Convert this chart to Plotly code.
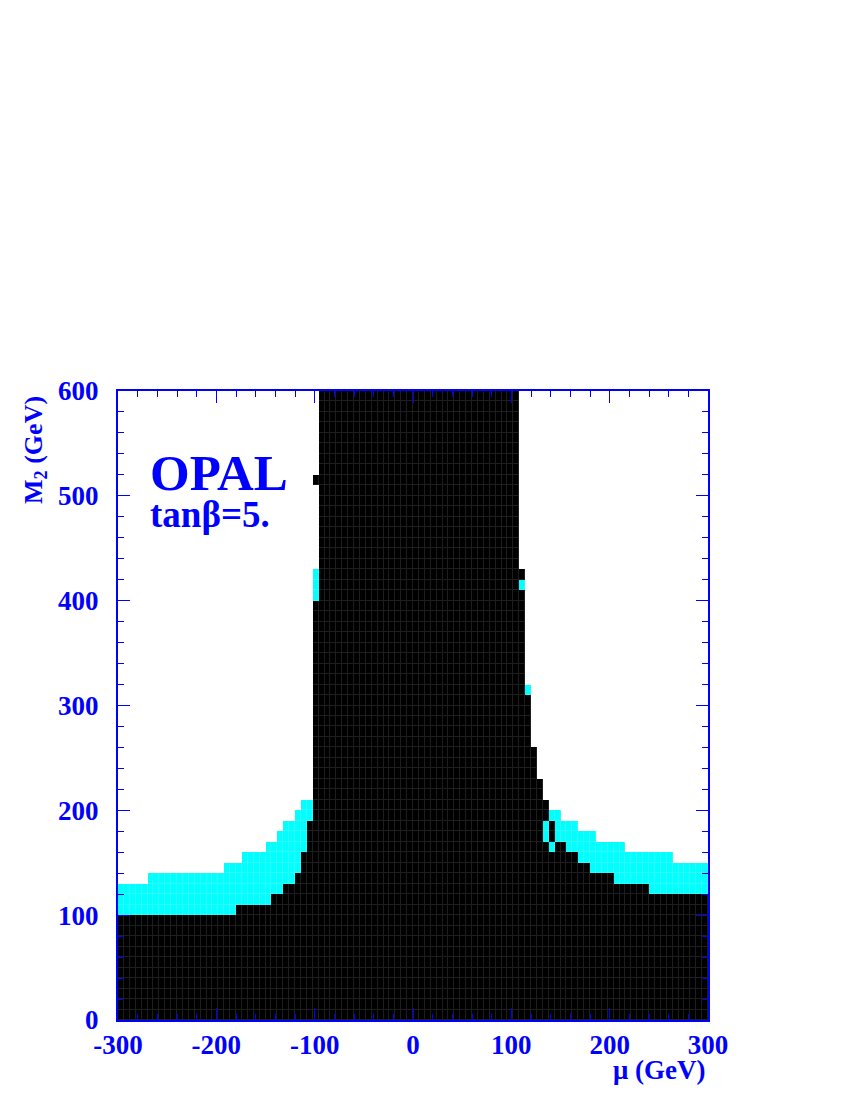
import numpy as np
import plotly.graph_objects as go

# ---- data ----
# scan grid: 100 columns in mu (6 GeV wide), 60 rows in M2 (10 GeV tall)
mu_edges = list(range(-300, 301, 6))
m2_edges = list(range(0, 601, 10))

# top of the excluded (black) region per mu column, GeV
black_top = [100, 100, 100, 100, 100, 100, 100, 100, 100, 100,
             100, 100, 100, 100, 100, 100, 100, 100, 100, 100,
             110, 110, 110, 110, 110, 110, 120, 120, 130, 130,
             140, 160, 190, 400, 600, 600, 600, 600, 600, 600,
             600, 600, 600, 600, 600, 600, 600, 600, 600, 600,
             600, 600, 600, 600, 600, 600, 600, 600, 600, 600,
             600, 600, 600, 600, 600, 600, 600, 600, 410, 310,
             260, 230, 170, 160, 170, 170, 160, 160, 150, 150,
             140, 140, 140, 140, 130, 130, 130, 130, 130, 130,
             120, 120, 120, 120, 120, 120, 120, 120, 120, 120]

# top of the cyan region per mu column, GeV
cyan_top = [130, 130, 130, 130, 130, 140, 140, 140, 140, 140,
            140, 140, 140, 140, 140, 140, 140, 140, 150, 150,
            150, 160, 160, 160, 160, 170, 170, 180, 190, 190,
            200, 210, 210, 430, 600, 600, 600, 600, 600, 600,
            600, 600, 600, 600, 600, 600, 600, 600, 600, 600,
            600, 600, 600, 600, 600, 600, 600, 600, 600, 600,
            600, 600, 600, 600, 600, 600, 600, 600, 420, 320,
            260, 230, 190, 200, 200, 190, 190, 190, 180, 180,
            180, 170, 170, 170, 170, 170, 160, 160, 160, 160,
            160, 160, 160, 160, 150, 150, 150, 150, 150, 150]

# isolated black cells (column left edge in mu, M2 low, M2 high)
extra_mu = [-102, 108, 132, 138]
extra_lo = [510, 420, 190, 170]
extra_hi = [520, 430, 210, 190]

x_ticks = [-300, -200, -100, 0, 100, 200, 300]
x_ticktext = ["-300", "-200", "-100", "0", "100", "200", "300"]
y_ticks = [0, 100, 200, 300, 400, 500, 600]

# ---- build cell matrix ----
mu_c = [(a + b) / 2 for a, b in zip(mu_edges[:-1], mu_edges[1:])]
m2_c = [(a + b) / 2 for a, b in zip(m2_edges[:-1], m2_edges[1:])]
z = np.full((len(m2_c), len(mu_c)), np.nan)
for j, xm in enumerate(mu_c):
    for i, ym in enumerate(m2_c):
        if ym < black_top[j]:
            z[i, j] = 0
        elif ym < cyan_top[j]:
            z[i, j] = 1
for xe, lo, hi in zip(extra_mu, extra_lo, extra_hi):
    j = mu_edges.index(xe)
    for i, ym in enumerate(m2_c):
        if lo < ym < hi:
            z[i, j] = 0

BLUE = "#0000ff"
FONT = "Liberation Serif"

fig = go.Figure()
# faint cell borders (underlay)
fig.add_trace(go.Heatmap(
    x=mu_c, y=m2_c, z=z, zmin=0, zmax=1,
    colorscale=[[0, "#1e1e1e"], [0.5, "#1e1e1e"], [0.5, "#30f8f8"], [1, "#30f8f8"]],
    showscale=False, hoverinfo="skip"))
fig.add_trace(go.Heatmap(
    x=mu_c, y=m2_c, z=z, zmin=0, zmax=1, xgap=1, ygap=1,
    colorscale=[[0, "#000000"], [0.5, "#000000"], [0.5, "#00ffff"], [1, "#00ffff"]],
    showscale=False))

axis_common = dict(
    showgrid=False, zeroline=False, showline=True, linecolor=BLUE, linewidth=2,
    mirror="allticks", ticks="inside", ticklen=12, tickwidth=1, tickcolor=BLUE,
    minor=dict(dtick=20, ticks="inside", ticklen=6, tickwidth=1, tickcolor=BLUE),
    layer="above traces",
)
fig.update_xaxes(range=[-300, 300], tickvals=x_ticks, ticktext=x_ticktext,
                 tickfont=dict(family=FONT, size=27, color=BLUE, weight="bold"),
                 ticklabelstandoff=0, **axis_common)
fig.update_yaxes(range=[0, 600], tickvals=y_ticks,
                 tickfont=dict(family=FONT, size=27, color=BLUE, weight="bold"),
                 ticklabelstandoff=12, **axis_common)

fig.add_annotation(text="μ (GeV)", xref="paper", yref="paper", x=1.0, y=-0.079,
                   xanchor="right", yanchor="middle", showarrow=False,
                   font=dict(family=FONT, size=27, color=BLUE, weight="bold"))
fig.add_annotation(text="M<sub>2</sub> (GeV)", xref="paper", yref="paper",
                   x=-0.141, y=0.906, textangle=-90, xanchor="center", yanchor="middle",
                   showarrow=False,
                   font=dict(family=FONT, size=26, color=BLUE, weight="bold"))
fig.add_annotation(text="OPAL", xref="paper", yref="paper", x=0.05, y=0.87,
                   xanchor="left", yanchor="middle", showarrow=False,
                   font=dict(family=FONT, size=51, color=BLUE, weight="bold"))
fig.add_annotation(text="tanβ=5.", xref="paper", yref="paper", x=0.05, y=0.803,
                   xanchor="left", yanchor="middle", showarrow=False,
                   font=dict(family=FONT, size=37, color=BLUE, weight="bold"))

fig.update_layout(
    width=850, height=1100,
    margin=dict(l=110, r=150, t=383, b=88),
    paper_bgcolor="white", plot_bgcolor="white",
    showlegend=False,
)
fig.write_html("out.html")
